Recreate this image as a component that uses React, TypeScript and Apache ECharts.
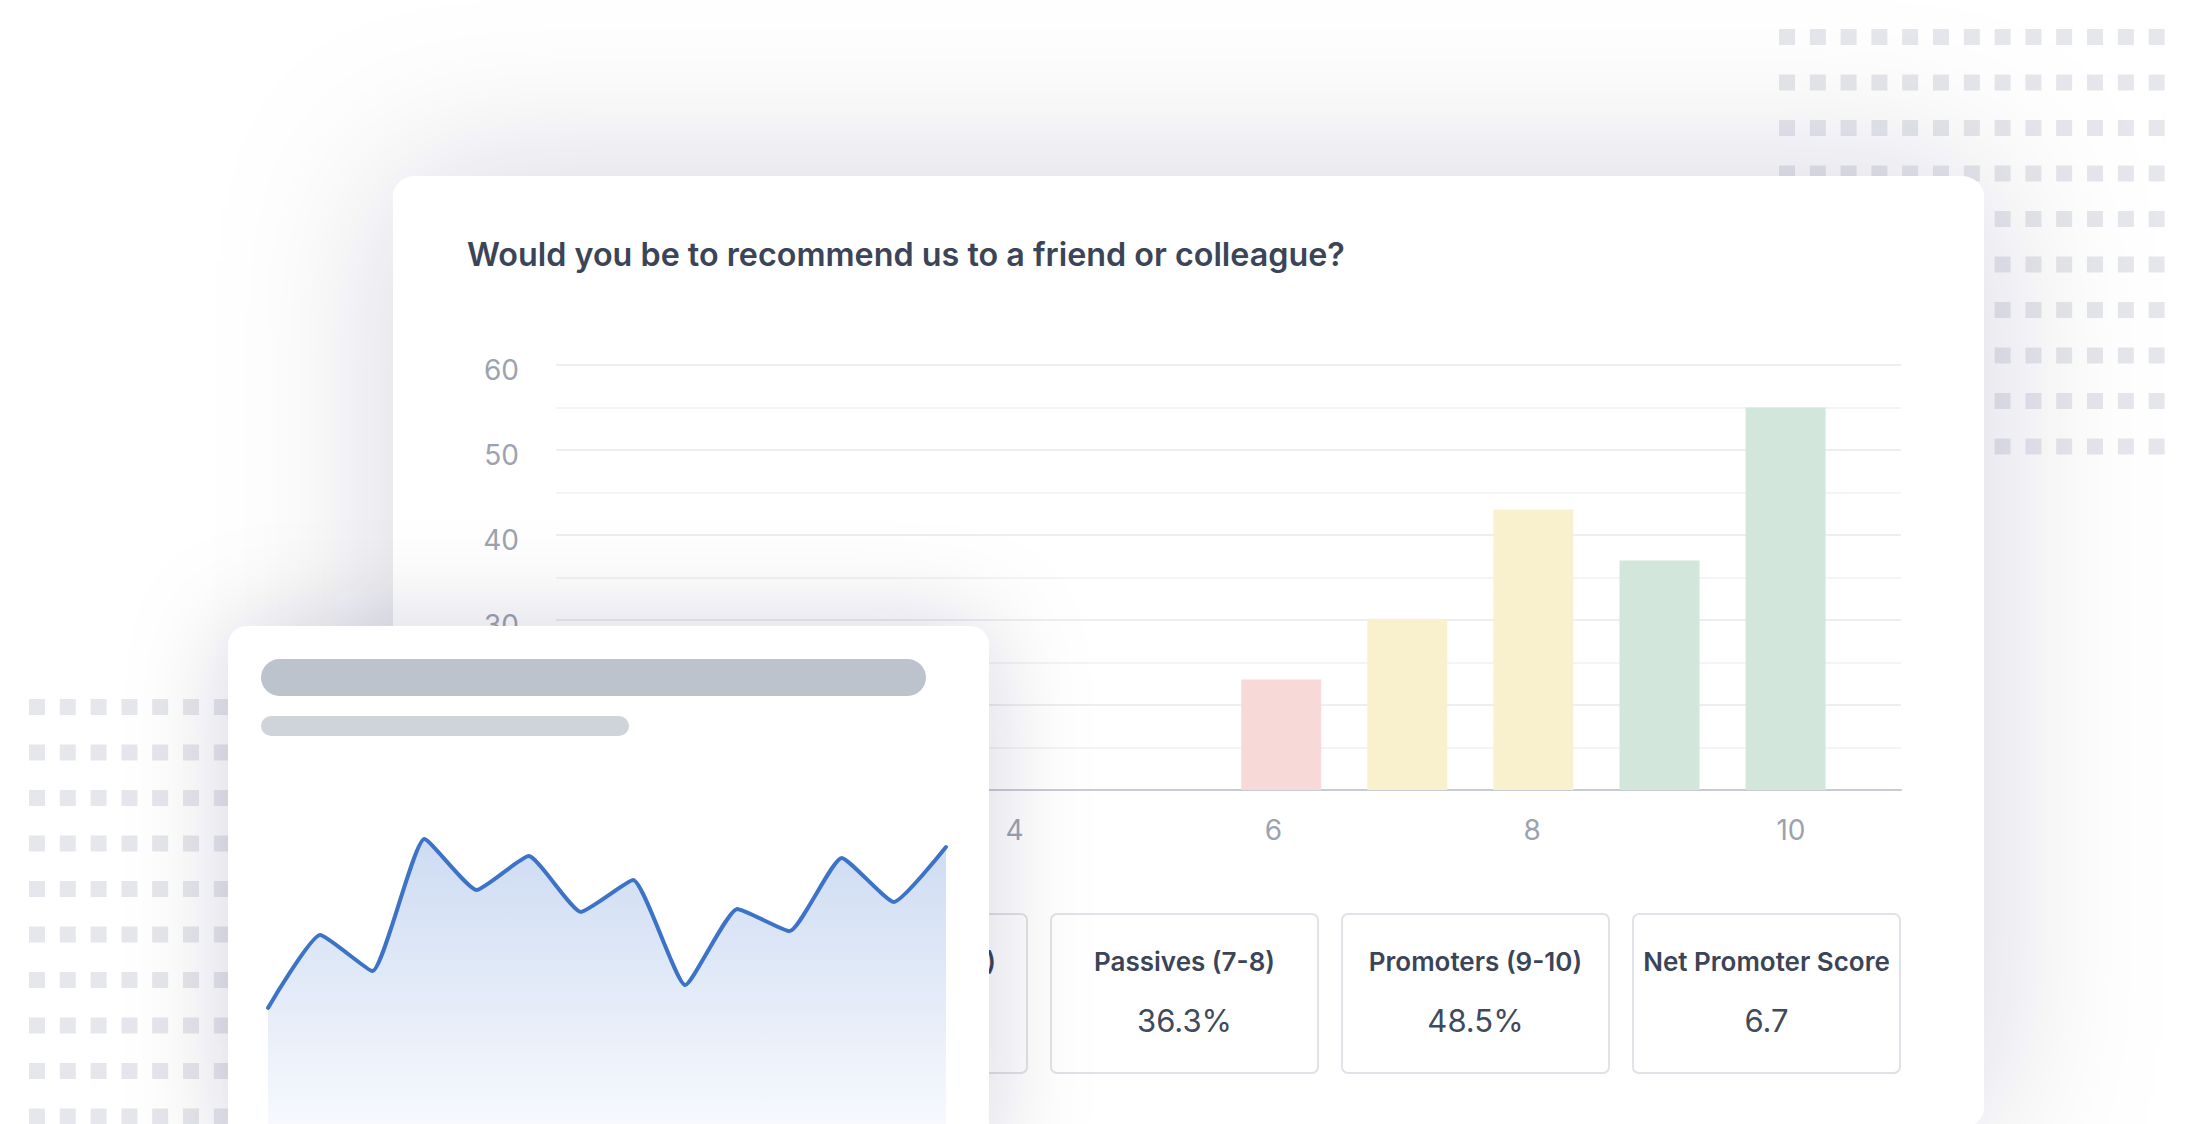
import React, { useEffect, useRef } from 'react';
import * as echarts from 'echarts';

const W = 2194;
const H = 1124;
const FONT = 'Inter, "Noto Sans", "DejaVu Sans", sans-serif';

// ---- data ----
const chartTitle = 'Would you be to recommend us to a friend or colleague?';
const scores = [6, 7, 8, 9, 10];
const counts = [23, 30, 43, 37, 55];
const barColors = ['#f7dad8', '#f9f1cd', '#f9f1cd', '#d3e6dc', '#d3e6dc'];
const xTickValues = [2, 4, 6, 8, 10];
const statLabels = ['Detractors (0-6)', 'Passives (7-8)', 'Promoters (9-10)', 'Net Promoter Score'];
const statValues = ['15.2%', '36.3%', '48.5%', '6.7'];
const trendLabels = ['1', '2', '3', '4', '5', '6', '7', '8', '9', '10', '11', '12', '13', '14'];
const trendValues = [38.7, 63, 51, 95, 78, 89.3, 70.7, 81.3, 46.3, 71.7, 64.3, 88.7, 74, 92.3];

function dotGrid(x0: number, y0: number, cols: number, rows: number, dx: number, dy: number) {
  const out: any[] = [];
  for (let r = 0; r < rows; r++) {
    for (let c = 0; c < cols; c++) {
      out.push({
        type: 'rect',
        z: -20,
        silent: true,
        shape: { x: x0 + c * dx, y: y0 + r * dy, width: 16, height: 16 },
        style: { fill: '#e6e7ec' },
      });
    }
  }
  return out;
}

function txt(x: number, y: number, text: string, size: number, weight: any, fill: string, align: string, z: number) {
  return {
    type: 'text',
    z,
    x,
    y,
    silent: true,
    style: {
      text,
      fontSize: size,
      fontWeight: weight,
      fontFamily: FONT,
      fill,
      align,
      verticalAlign: 'middle',
      textAlign: align,
      textVerticalAlign: 'middle',
    },
  };
}

export default function App() {
  const ref = useRef<HTMLDivElement>(null);

  useEffect(() => {
    const chart = echarts.init(ref.current!, null, { renderer: 'svg', width: W, height: H });

    const graphics: any[] = [];
    graphics.push(...dotGrid(1779, 29, 13, 10, 30.8, 45.5));
    graphics.push(...dotGrid(29, 699, 7, 10, 30.8, 45.5));

    // main card
    graphics.push({
      type: 'rect',
      z: -10,
      silent: true,
      shape: { x: 393, y: 176, width: 1591, height: 952, r: 22 },
      style: { fill: '#ffffff', shadowBlur: 170, shadowColor: 'rgba(30,41,59,0.17)' },
    });
    graphics.push(txt(467, 254, chartTitle, 32.3, 600, '#3b4557', 'left', 5));

    // stat boxes
    const boxX = [760, 1051, 1342, 1633];
    statLabels.forEach((lab, i) => {
      graphics.push({
        type: 'rect',
        z: 4,
        silent: true,
        shape: { x: boxX[i], y: 914, width: 267, height: 159, r: 6 },
        style: { fill: '#ffffff', stroke: '#dfe2e6', lineWidth: 2 },
      });
      graphics.push(txt(boxX[i] + 133.5, 961, lab, 26, 600, '#3b4557', 'center', 5));
      graphics.push(txt(boxX[i] + 133.5, 1020, statValues[i], 31, 400, '#3f4a5c', 'center', 5));
    });

    // small card
    graphics.push({
      type: 'rect',
      z: 10,
      silent: true,
      shape: { x: 228, y: 626, width: 761, height: 540, r: 20 },
      style: { fill: '#ffffff', shadowBlur: 100, shadowColor: 'rgba(30,41,59,0.17)' },
    });
    graphics.push({
      type: 'rect',
      z: 11,
      silent: true,
      shape: { x: 261, y: 659, width: 665, height: 37, r: 18.5 },
      style: { fill: '#bcc3cd' },
    });
    graphics.push({
      type: 'rect',
      z: 11,
      silent: true,
      shape: { x: 261, y: 716, width: 368, height: 20, r: 10 },
      style: { fill: '#cfd4db' },
    });

    const option: any = {
      animation: false,
      backgroundColor: '#ffffff',
      textStyle: { fontFamily: FONT },
      graphic: { elements: graphics },
      grid: [
        { left: 556, right: 293, top: 365, bottom: 334 },
        { left: 268, right: 1248, top: 824, bottom: 0 },
      ],
      xAxis: [
        {
          // visible score axis (labels + baseline)
          type: 'value',
          gridIndex: 0,
          min: 0.456,
          max: 10.85,
          splitLine: { show: false },
          axisTick: { show: false },
          axisLine: { show: true, lineStyle: { color: '#c7ccd3', width: 2 } },
          axisLabel: {
            customValues: xTickValues,
            color: '#9ca3af',
            fontSize: 28,
            margin: 26,
            fontFamily: FONT,
          },
        },
        { type: 'category', gridIndex: 1, data: trendLabels, boundaryGap: false, show: false },
        {
          // hidden axis carrying the bars
          type: 'value',
          gridIndex: 0,
          min: 0.249,
          max: 10.915,
          show: false,
        },
      ],
      yAxis: [
        {
          type: 'value',
          gridIndex: 0,
          min: 10,
          max: 60,
          interval: 10,
          axisLine: { show: false },
          axisTick: { show: false },
          axisLabel: {
            color: '#9ca3af',
            fontSize: 28,
            margin: 37,
            fontFamily: FONT,
            formatter: '{a|{value}}',
            rich: { a: { color: '#9ca3af', fontSize: 28, fontFamily: FONT, padding: [9, 0, 0, 0] } },
          },
          splitLine: { show: true, lineStyle: { color: '#eceef1', width: 2 } },
          minorTick: { show: false, splitNumber: 2 },
          minorSplitLine: { show: true, lineStyle: { color: '#f3f4f6', width: 2 } },
        },
        { type: 'value', gridIndex: 1, min: 0, max: 100, show: false },
      ],
      series: [
        {
          type: 'bar',
          xAxisIndex: 2,
          yAxisIndex: 0,
          barWidth: 80,
          z: 2,
          data: scores.map((s, i) => ({ value: [s, counts[i]], itemStyle: { color: barColors[i] } })),
        },
        {
          type: 'line',
          xAxisIndex: 1,
          yAxisIndex: 1,
          z: 20,
          data: trendValues,
          smooth: 0.15,
          symbol: 'none',
          lineStyle: { color: '#3d73c6', width: 4, cap: 'round', join: 'round' },
          areaStyle: {
            color: new echarts.graphic.LinearGradient(0, 0, 0, 1, [
              { offset: 0, color: '#b8ccec' },
              { offset: 1, color: '#f3f6fd' },
            ]),
          },
        },
      ],
    };

    chart.setOption(option);
    return () => chart.dispose();
  }, []);

  return (
    <div
      ref={ref}
      style={{ position: 'absolute', left: 0, top: 0, width: W, height: H, background: '#ffffff' }}
    />
  );
}
